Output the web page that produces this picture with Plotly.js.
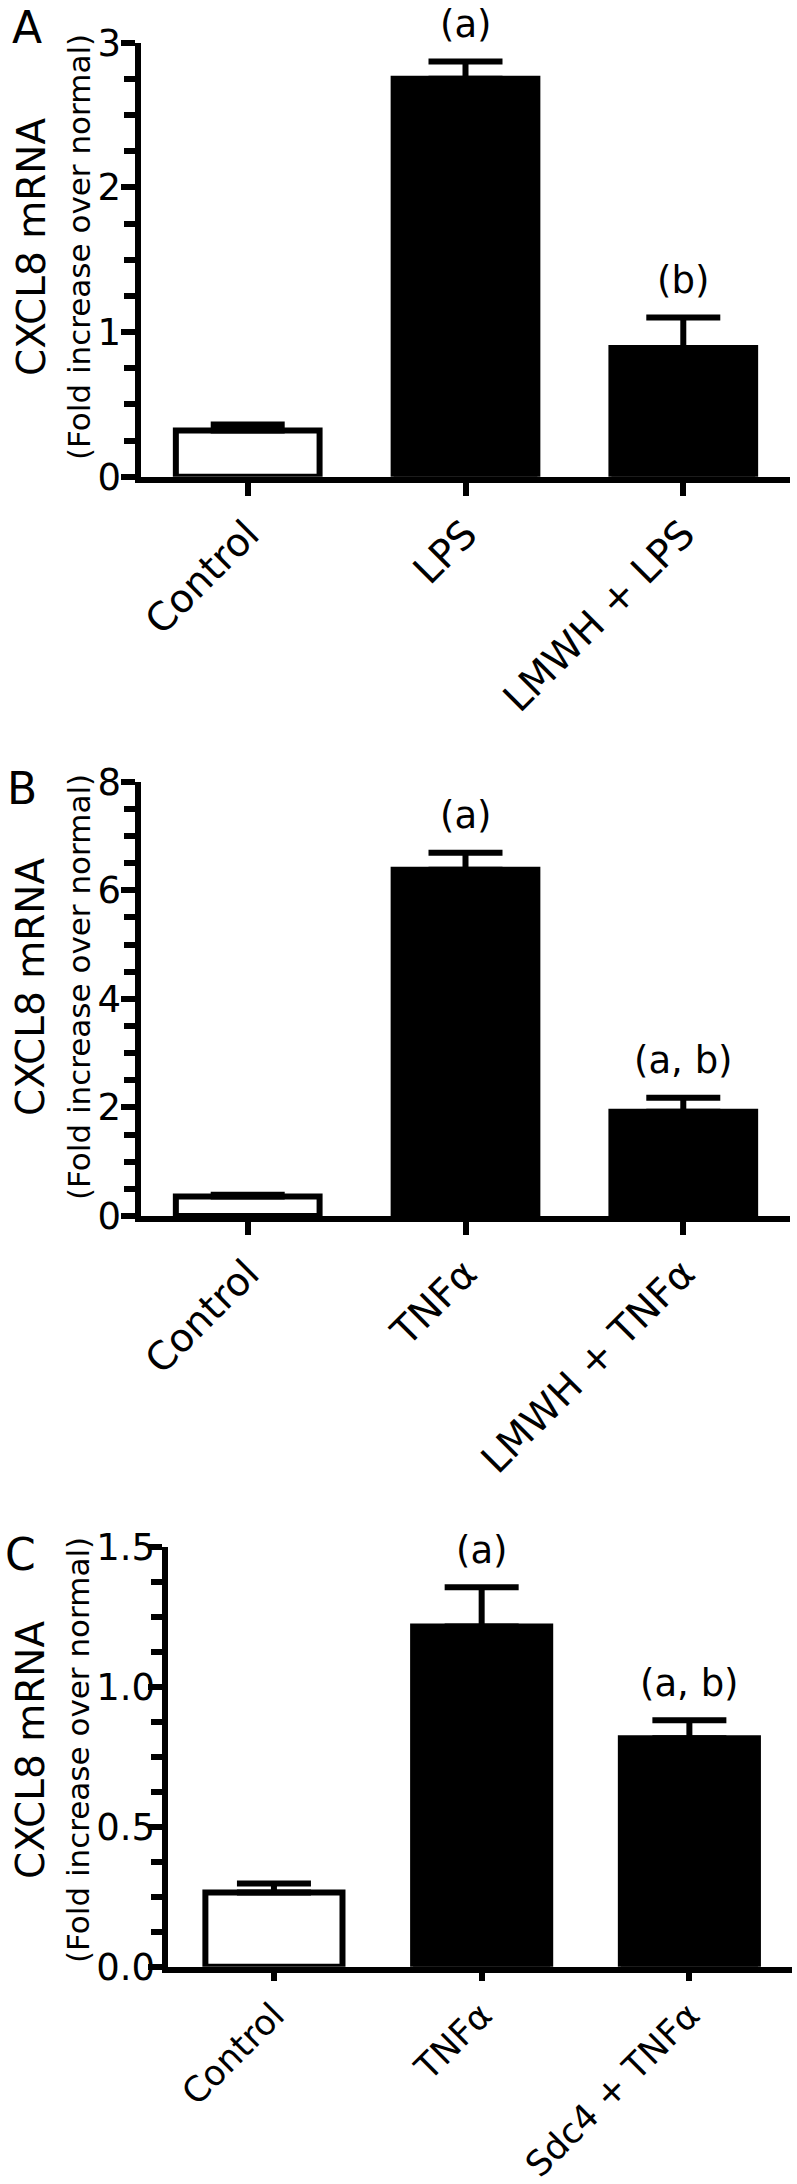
<!DOCTYPE html>
<html>
<head>
<meta charset="utf-8">
<script src="https://cdn.plot.ly/plotly-3.0.1.min.js"></script>
<style>
  html, body { margin: 0; padding: 0; background: #fff; }
  #chart { width: 797px; height: 2184px; }
</style>
</head>
<body>
<div id="chart"></div>
<script>
// data
let categoriesA = ['Control', 'LPS', 'LMWH + LPS'];
let valuesA = [0.32, 2.75, 0.89];
let errorsA = [0.04, 0.12, 0.21];
let sigA = ['', '(a)', '(b)'];

let categoriesB = ['Control', 'TNFα', 'LMWH + TNFα'];
let valuesB = [0.36, 6.38, 1.92];
let errorsB = [0.03, 0.31, 0.26];
let sigB = ['', '(a)', '(a, b)'];

let categoriesC = ['Control', 'TNFα', 'Sdc4 + TNFα'];
let valuesC = [0.265, 1.215, 0.816];
let errorsC = [0.032, 0.14, 0.064];
let sigC = ['', '(a)', '(a, b)'];

let panelLetters = ['A', 'B', 'C'];
let barColors = ['white', 'black', 'black'];

const W = 797, H = 2184;
const FONT = 'DejaVu Sans, Arial, sans-serif';
function px(x) { return x / W; }
function py(y) { return 1 - y / H; }

// pixel layout of each panel
let panels = [
    { cats: categoriesA, vals: valuesA, errs: errorsA, sig: sigA, x0: 141, x1: 790, xr: [-0.49, 2.49],
      top: 42.7, bottom: 476.7, yr: [0, 3], dtick: 1, minor: 0.25, fmt: 'd', xfont: 39, xlen: 13, labelX: 121,
      letter: [27, 28], titleY: 247, t1x: 31, t2x: 79 },
    { cats: categoriesB, vals: valuesB, errs: errorsB, sig: sigB, x0: 141, x1: 790, xr: [-0.49, 2.49],
      top: 781.7, bottom: 1216, yr: [0, 8], dtick: 2, minor: 0.5, fmt: 'd', xfont: 39, xlen: 13, labelX: 121,
      letter: [22, 788], titleY: 987, t1x: 31, t2x: 79 },
    { cats: categoriesC, vals: valuesC, errs: errorsC, sig: sigC, x0: 168, x1: 792, xr: [-0.51, 2.494],
      top: 1546.7, bottom: 1966.7, yr: [0, 1.5], dtick: 0.5, minor: 0.125, fmt: '.1f', xfont: 35, xlen: 8, labelX: 155,
      letter: [20, 1554], titleY: 1750, t1x: 30, t2x: 78 }
];

let traces = [];
let annotations = [];
let layout = {
    width: W,
    height: H,
    margin: { l: 0, r: 0, t: 0, b: 0 },
    paper_bgcolor: 'white',
    plot_bgcolor: 'white',
    showlegend: false,
    font: { family: FONT, color: 'black' },
    bargap: 0
};

panels.forEach((p, i) => {
    let n = i === 0 ? '' : String(i + 1);
    let xa = 'x' + n, ya = 'y' + n;
    let yl = 'y' + (i + 4); // label-only y axis for the tick numbers

    traces.push({
        type: 'bar',
        x: p.cats,
        y: p.vals,
        xaxis: xa,
        yaxis: ya,
        width: 0.66,
        marker: { color: barColors, line: { color: 'black', width: 6 } },
        error_y: {
            type: 'data',
            symmetric: false,
            array: p.errs,
            arrayminus: p.errs.map(() => 0),
            color: 'black',
            thickness: 6,
            width: 37
        },
        hoverinfo: 'none'
    });
    // empty trace that just ties the label axis to the panel
    traces.push({
        type: 'scatter', mode: 'none',
        x: p.cats, y: p.vals,
        xaxis: xa, yaxis: yl,
        hoverinfo: 'none'
    });

    layout['xaxis' + n] = {
        domain: [px(p.x0), px(p.x1)],
        anchor: ya,
        type: 'category',
        range: p.xr,
        showgrid: false,
        zeroline: false,
        showline: true,
        linecolor: 'black',
        linewidth: 6,
        ticks: 'outside',
        ticklen: p.xlen,
        tickwidth: 6,
        tickcolor: 'black',
        tickangle: -45,
        tickfont: { family: FONT, size: p.xfont, color: 'black' },
        fixedrange: true
    };
    layout['yaxis' + n] = {
        domain: [py(p.bottom), py(p.top)],
        anchor: xa,
        range: p.yr,
        dtick: p.dtick,
        tick0: 0,
        showticklabels: false,
        showgrid: false,
        zeroline: false,
        showline: true,
        linecolor: 'black',
        linewidth: 6,
        ticks: 'outside',
        ticklen: 14,
        tickwidth: 6,
        tickcolor: 'black',
        minor: { dtick: p.minor, tick0: 0, ticks: 'outside', ticklen: 11, tickwidth: 6, tickcolor: 'black', showgrid: false },
        fixedrange: true
    };
    layout['yaxis' + (i + 4)] = {
        overlaying: ya,
        anchor: 'free',
        position: px(p.labelX),
        side: 'left',
        range: p.yr,
        dtick: p.dtick,
        tick0: 0,
        tickformat: p.fmt,
        showline: false,
        showgrid: false,
        zeroline: false,
        ticks: '',
        tickfont: { family: FONT, size: 37, color: 'black' },
        fixedrange: true
    };

    // significance letters above the error bars
    p.sig.forEach((s, j) => {
        if (!s) return;
        annotations.push({
            xref: xa, yref: ya,
            x: p.cats[j], y: p.vals[j] + p.errs[j],
            text: s, showarrow: false,
            yanchor: 'middle', yshift: 37,
            font: { family: FONT, size: 37, color: 'black' }
        });
    });

    // panel letter
    annotations.push({
        xref: 'paper', yref: 'paper',
        x: px(p.letter[0]), y: py(p.letter[1]),
        text: panelLetters[i], showarrow: false,
        xanchor: 'center', yanchor: 'middle',
        font: { family: FONT, size: 44, color: 'black' }
    });

    // two-line y title
    annotations.push({
        xref: 'paper', yref: 'paper',
        x: px(p.t1x), y: py(p.titleY),
        text: 'CXCL8 mRNA', showarrow: false, textangle: -90,
        xanchor: 'center', yanchor: 'middle',
        font: { family: FONT, size: 39, color: 'black' }
    });
    annotations.push({
        xref: 'paper', yref: 'paper',
        x: px(p.t2x), y: py(p.titleY),
        text: '(Fold increase over normal)', showarrow: false, textangle: -90,
        xanchor: 'center', yanchor: 'middle',
        font: { family: FONT, size: 31, color: 'black' }
    });
});

layout.annotations = annotations;

Plotly.newPlot('chart', traces, layout, { staticPlot: true });
</script>
</body>
</html>
